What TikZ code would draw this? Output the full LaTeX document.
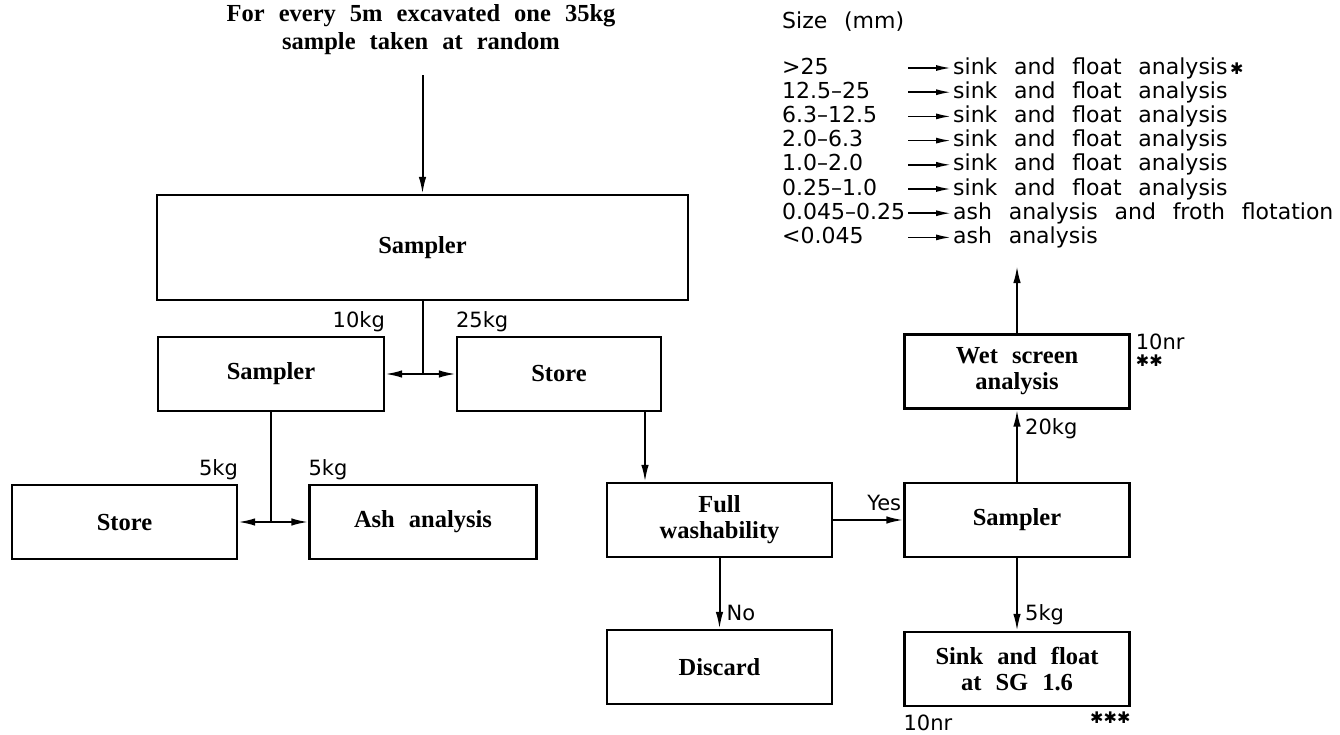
\documentclass[tikz,border=0pt]{standalone}
\usepackage{fontspec}
\setmainfont{Liberation Serif}[WordSpace=2.3]
\newfontfamily\plotfont{DejaVu Sans}
\usetikzlibrary{arrows.meta, positioning}
\newcommand{\boxfont}{\fontsize{24.5}{26}\selectfont\bfseries}
\newcommand{\tabfont}{\plotfont\fontsize{22}{24}\selectfont\spaceskip=0.76em\relax}
\newcommand{\tagsize}{\plotfont\fontsize{21}{22}\selectfont}
\newcommand{\starsize}{\plotfont\fontsize{16}{16}\selectfont}
\tikzset{
  unit/.style     = {draw, line width=2.3pt, minimum width=225pt, minimum height=74pt,
                     inner sep=2pt, align=center, font=\boxfont},
  flow/.style     = {-{Latex[length=17pt,width=7.5pt]}, line width=2pt},
  feed/.style     = {line width=2pt},
  tag/.style      = {font=\tagsize, inner sep=0pt},
  sizecol/.style  = {font=\tabfont, anchor=west, text width=124pt, inner sep=2pt,
                     text height=16pt, text depth=4pt},
  usecol/.style   = {font=\tabfont, anchor=west, inner sep=2pt,
                     text height=16pt, text depth=4pt},
  tabarrow/.style = {-{Latex[length=15pt,width=6pt]}, line width=1.7pt},
}
\begin{document}
\begin{tikzpicture}[x=1pt, y=-1pt]
  \useasboundingbox (0,0) rectangle (1340,734);
  \node[font={\fontsize{24.5}{28}\selectfont\bfseries}, align=center, inner sep=0pt]
    (title) at (421,30) {For every 5m excavated one 35kg\\sample taken at random};
  \coordinate (feedin) at (422.5,75);
  % first split
  \node[unit, minimum width=531pt, minimum height=105pt] (samp1) at (422.5,247.5) {Sampler};
  \node[unit, minimum width=226pt] (samp2) at (271,374) {Sampler};
  \node[unit, minimum width=204pt] (store1) at (559,374) {Store};
  \node[unit] (store2) at (124.5,522) {Store};
  \node[unit, minimum width=227pt] (ash) at (423,522) {Ash analysis};
  % washability branch
  \node[unit] (wash) at (719.5,520) {Full\\washability};
  \node[unit] (discard) at (719.5,667) {Discard};
  \node[unit] (samp3) at (1017,520) {Sampler};
  \node[unit] (sink) at (1017,669) {Sink and float\\at SG 1.6};
  \node[unit] (wet) at (1017,371.5) {Wet screen\\analysis};
  \coordinate (screenout) at (1017,266);

  \draw[flow] (feedin) -- (samp1);
  \draw[feed] (samp1.south) -- (samp1.south |- samp2.east) coordinate (split1);
  \draw[flow] (split1) -- (samp2.east);
  \draw[flow] (split1) -- (store1.west);
  \draw[feed] (samp2.south) -- (samp2.south |- ash.west) coordinate (split2);
  \draw[flow] (split2) -- (store2.east);
  \draw[flow] (split2) -- (ash.west);
  \path ([xshift=86pt]store1.south) coordinate (s1out);
  \draw[flow] (s1out) -- (s1out |- wash.north);
  \draw[flow] (wash) -- (samp3);
  \draw[flow] (wash) -- (discard);
  \draw[flow] (samp3) -- (sink);
  \draw[flow] (samp3) -- (wet);
  \draw[flow] (wet) -- (screenout);

  % masses and counts
  \node[tag, anchor=base east] at ([yshift=8pt]samp2.north east) {10kg};
  \node[tag, anchor=base west] at ([yshift=8pt]store1.north west) {25kg};
  \node[tag, anchor=base east] at ([yshift=8pt]store2.north east) {5kg};
  \node[tag, anchor=base west] at ([yshift=8pt]ash.north west) {5kg};
  \node[tag, anchor=base east] at ([shift={(-2pt,10pt)}]samp3.west) {Yes};
  \node[tag, anchor=base west] at ([shift={(7pt,8pt)}]discard.north) {No};
  \node[tag, anchor=base west] at ([shift={(8pt,10pt)}]sink.north) {5kg};
  \node[tag, anchor=north west] at ([shift={(8pt,-9pt)}]wet.south) {20kg};
  \node[tag, anchor=north west] (wetnr) at ([xshift=5pt]wet.north east) {10nr};
  \node[font=\starsize, inner sep=0pt, anchor=north west] at ([yshift=-5pt]wetnr.south west) {✱✱};
  \node[tag, anchor=north west] at ([yshift=-8pt]sink.south west) {10nr};
  \node[font=\starsize, inner sep=0pt, anchor=north east] at ([yshift=-4pt]sink.south east) {✱✱✱};

  % size fractions
  \node[font=\tabfont, anchor=west, inner sep=2pt] (sizehead) at (780,22) {Size (mm)};
  \foreach \range/\dest [count=\i from 0] in {
      {>25}/{sink and float analysis{\starsize\,✱}},
      {12.5–25}/{sink and float analysis},
      {6.3–12.5}/{sink and float analysis},
      {2.0–6.3}/{sink and float analysis},
      {1.0–2.0}/{sink and float analysis},
      {0.25–1.0}/{sink and float analysis},
      {0.045–0.25}/{ash analysis and froth flotation},
      {<0.045}/{ash analysis}} {
    \node[sizecol] (size\i) at (780,68+24.2*\i) {\range};
    \node[usecol] (use\i) at (951,68+24.2*\i) {\dest};
    \draw[tabarrow] (size\i.east) -- (use\i.west);
  }
\end{tikzpicture}
\end{document}
